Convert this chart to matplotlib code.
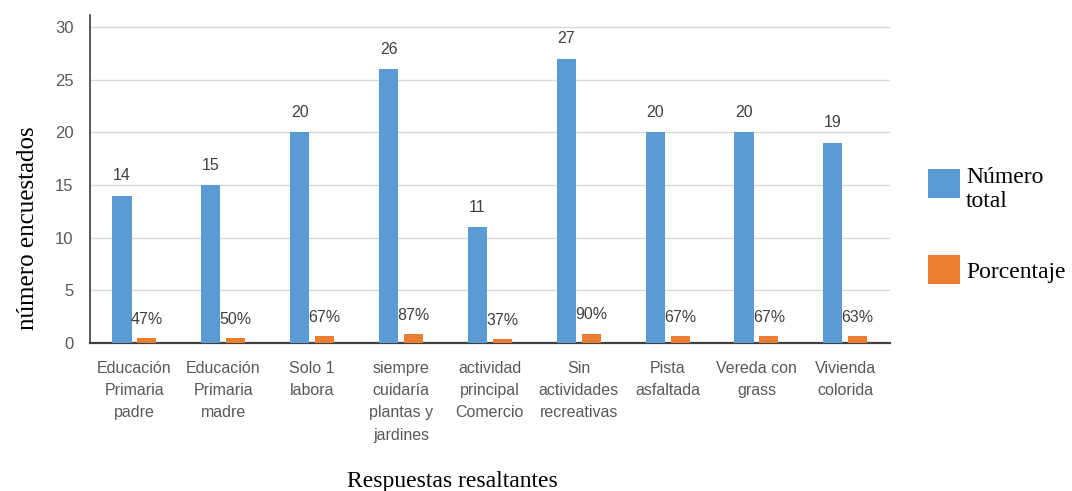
import matplotlib
matplotlib.use("Agg")
import matplotlib.pyplot as plt
from matplotlib.patches import Rectangle
import numpy as np

categories = ["Educación\nPrimaria\npadre", "Educación\nPrimaria\nmadre", "Solo 1\nlabora",
              "siempre\ncuidaría\nplantas y\njardines", "actividad\nprincipal\nComercio",
              "Sin\nactividades\nrecreativas", "Pista\nasfaltada", "Vereda con\ngrass",
              "Vivienda\ncolorida"]
numero_total = [14, 15, 20, 26, 11, 27, 20, 20, 19]
porcentaje = [0.47, 0.50, 0.67, 0.87, 0.37, 0.90, 0.67, 0.67, 0.63]
pct_labels = ["47%", "50%", "67%", "87%", "37%", "90%", "67%", "67%", "63%"]
yticks = [0, 5, 10, 15, 20, 25, 30]
series_names = ["Número\ntotal", "Porcentaje"]

BLUE = "#5B9BD5"
ORANGE = "#ED7D31"
sans = ["Liberation Sans", "DejaVu Sans"]
serif = ["Liberation Serif", "DejaVu Serif"]

W, H = 1072, 491
fig = plt.figure(figsize=(W / 100, H / 100), dpi=100)
ax = fig.add_axes([0.084, 0.3014, 0.746, 0.6681])

x = np.arange(len(categories))
w = 0.215
off = 0.14
b1 = ax.bar(x - off, numero_total, width=w, color=BLUE, label=series_names[0], zorder=3)
b2 = ax.bar(x + off, porcentaje, width=w, color=ORANGE, label=series_names[1], zorder=3)

for xi, v in zip(x, numero_total):
    ax.annotate(str(v), (xi - off, v), xytext=(0, 9), textcoords="offset points",
                ha="center", va="bottom", fontsize=11.5, color="#404040", family=sans)
for xi, v, t in zip(x, porcentaje, pct_labels):
    ax.annotate(t, (xi + off, v), xytext=(0, 8), textcoords="offset points",
                ha="center", va="bottom", fontsize=11.5, color="#404040", family=sans)

ax.set_xlim(-0.5, len(categories) - 0.5)
ax.set_ylim(0, 31.15)
ax.set_yticks(yticks)
ax.set_yticklabels([str(t) for t in yticks], fontsize=12, color="#595959", family=sans)
ax.set_xticks(x)
ax.set_xticklabels(categories, fontsize=11.5, color="#595959", family=sans, linespacing=1.6)
ax.tick_params(axis="both", length=0)
ax.tick_params(axis="y", pad=12)
ax.tick_params(axis="x", pad=13)
ax.grid(axis="y", color="#D9D9D9", linewidth=1, zorder=0)

for s in ["top", "right"]:
    ax.spines[s].set_visible(False)
ax.spines["left"].set_color("#404040")
ax.spines["left"].set_linewidth(1.2)
ax.spines["bottom"].set_color("#404040")
ax.spines["bottom"].set_linewidth(1.6)

ax.set_ylabel("número encuestados", fontsize=18, family=serif, color="black")
ax.yaxis.set_label_coords(-0.064, 0.35)
ax.set_xlabel("Respuestas resaltantes", fontsize=17, family=serif, color="black")
ax.xaxis.set_label_coords(0.4525, -0.39)

# legend drawn as patches + text in figure pixel coordinates
def fx(px):
    return px / W

def fy(py):
    return 1 - py / H

for color, name, (top, bottom), ty in [(BLUE, series_names[0], (169, 198), 167),
                                      (ORANGE, series_names[1], (255, 284), 262)]:
    fig.add_artist(Rectangle((fx(928), fy(bottom)), fx(960) - fx(928), fy(top) - fy(bottom),
                             transform=fig.transFigure, color=color, lw=0))
    fig.text(fx(966), fy(ty), name, ha="left", va="top", fontsize=17, family=serif,
             color="black", linespacing=1.2)

fig.savefig("out.png", dpi=100)
